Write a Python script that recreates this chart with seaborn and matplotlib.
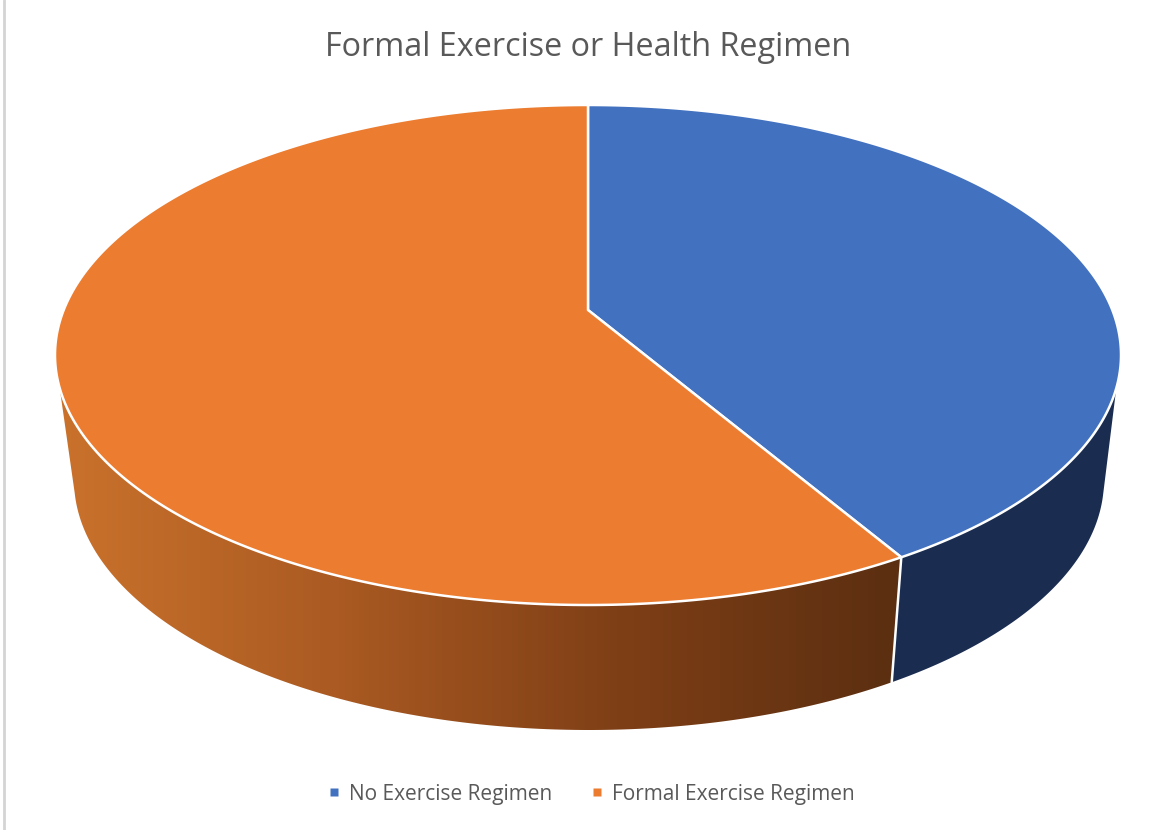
import numpy as np
import matplotlib
matplotlib.use("Agg")
import matplotlib.pyplot as plt
from matplotlib.colors import LinearSegmentedColormap
from matplotlib.lines import Line2D
from matplotlib.patches import Polygon
import seaborn as sns

categories = ["No Exercise Regimen", "Formal Exercise Regimen"]
shares = [40.0, 60.0]
title = "Formal Exercise or Health Regimen"

sns.set_theme(style="white")
plt.rcParams["font.family"] = ["Open Sans", "DejaVu Sans"]

W, H = 1171, 830
fig = plt.figure(figsize=(W / 100, H / 100), dpi=100, facecolor="white")
ax = fig.add_axes([0, 0, 1, 1])
ax.set_xlim(0, W)
ax.set_ylim(H, 0)
ax.axis("off")

top_c = (588, 355, 533, 250)
bot_c = (589, 480, 515, 250)
tip = (588, 310)
WHITE_LW = 1.8
top_colors = sns.color_palette(["#4271BF", "#EB7C30"])


def ell(c, a):
    a = np.radians(a)
    return np.column_stack([c[0] + c[2] * np.sin(a), c[1] - c[3] * np.cos(a)])


edges = np.concatenate([[0], np.cumsum(shares)]) / np.sum(shares) * 360
split = edges[1]

# side walls
wall_l, wall_r = 97.6, 262.4
blue_wall = np.vstack([ell(top_c, np.linspace(wall_l, split, 80)),
                       ell(bot_c, np.linspace(split, 93, 80))])
orange_wall = np.vstack([ell(top_c, np.linspace(split, wall_r, 200)),
                         ell(bot_c, np.linspace(267, split, 200))])
ax.add_patch(Polygon(blue_wall, closed=True, fc="#1A2D50", ec="none", zorder=2))

cmap = LinearSegmentedColormap.from_list(
    "wall", [(0.0, "#CA722C"), (0.33, "#AA5A22"), (0.66, "#7F3F16"), (0.985, "#5C2F11"), (1.0, "#5C2F11")])
grad = np.linspace(0, 1, 512).reshape(1, -1)
im = ax.imshow(grad, cmap=cmap, extent=(58, 905, 740, 380), aspect="auto", zorder=2)
clip = Polygon(orange_wall, closed=True, transform=ax.transData, fc="none", ec="none")
ax.add_patch(clip)
im.set_clip_path(clip)
ax.set_xlim(0, W)
ax.set_ylim(H, 0)

# wall seam
seam = np.vstack([ell(top_c, [split]), ell(bot_c, [split])])
ax.plot(seam[:, 0], seam[:, 1], color="white", lw=WHITE_LW, zorder=3)

# top face
for i in range(len(shares)):
    arc = ell(top_c, np.linspace(edges[i], edges[i + 1], 300))
    ax.add_patch(Polygon(np.vstack([[tip], arc]), closed=True, fc=top_colors[i],
                         ec="white", lw=WHITE_LW, joinstyle="round", zorder=4))

# frame line
ax.plot([3.5, 3.5], [0, H], color="#D4D4D4", lw=2, zorder=1)

ax.text(588, 47, title, ha="center", va="center", fontsize=23.3, color="#595959", zorder=5)

handles = [Line2D([], [], ls="none", marker="s", ms=6, mfc=c, mec="none") for c in top_colors]
leg = ax.legend(handles, categories, loc="center", bbox_to_anchor=(584 / W, 1 - 794 / H),
                ncol=2, frameon=False, fontsize=15, labelcolor="#595959",
                handletextpad=-0.29, columnspacing=1.17)

fig.savefig("out.png", dpi=100, facecolor="white")
